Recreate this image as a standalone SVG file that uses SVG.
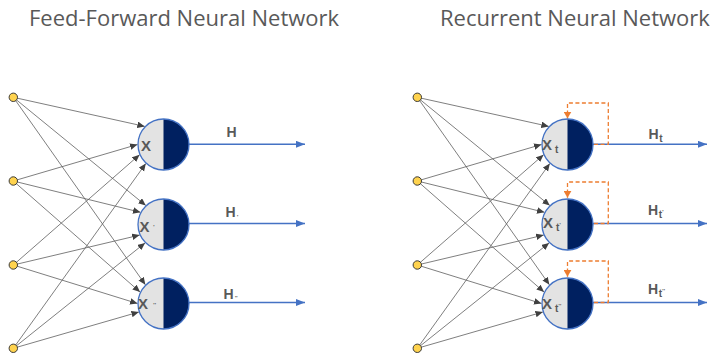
<svg xmlns="http://www.w3.org/2000/svg" width="711" height="355" viewBox="0 0 711 355">
  <style>
    .title { font-family: "Open Sans", "Liberation Sans", sans-serif; font-size: 22px; fill: #595959; }
    .lbl { font-family: "Liberation Sans", Arial, sans-serif; font-weight: bold; fill: #595959; }
    .x { font-size: 15px; }
    .h { font-size: 14px; }
    .sub { font-size: 10px; }
    .tiny { font-size: 6px; }
    .input { fill: #FFD34E; stroke: #3A3A3A; stroke-width: 1; }
    .edge { stroke: #5E5E5E; stroke-width: 0.8; fill: none; marker-end: url(#arrGray); }
    .out { stroke: #4472C4; stroke-width: 1.6; fill: none; marker-end: url(#arrBlue); }
    .loop { stroke: #ED7D31; stroke-width: 1.3; stroke-dasharray: 4 2.5; fill: none; marker-end: url(#arrOrange); }
    .cellL { fill: #E3E3E3; }
    .cellR { fill: #002060; }
    .ring { fill: none; stroke: #4472C4; stroke-width: 1.3; }
  </style>
  <defs>
    <marker id="arrGray" markerUnits="userSpaceOnUse" markerWidth="8" markerHeight="7" refX="7.5" refY="3.25" orient="auto">
      <path d="M0,0 L7.5,3.25 L0,6.5 Z" fill="#404040"/>
    </marker>
    <marker id="arrBlue" markerUnits="userSpaceOnUse" markerWidth="10" markerHeight="8" refX="9" refY="3.5" orient="auto">
      <path d="M0,0 L9,3.5 L0,7 Z" fill="#4472C4"/>
    </marker>
    <marker id="arrOrange" markerUnits="userSpaceOnUse" markerWidth="9" markerHeight="8" refX="7" refY="4" orient="auto">
      <path d="M0,0 L7,4 L0,8 Z" fill="#ED7D31"/>
    </marker>
    <!-- one neuron cell: light left half, dark right half, blue ring -->
    <g id="cell">
      <circle r="25.5" class="cellL"/>
      <path d="M0,-25.5 A25.5,25.5 0 0 1 0,25.5 Z" class="cellR"/>
      <circle r="25.5" class="ring"/>
    </g>
  </defs>

  <text class="title" x="29" y="26">Feed-Forward Neural Network</text>
  <text class="title" x="440" y="26">Recurrent Neural Network</text>

  <!-- connectors: feed-forward network -->
  <g id="connectors-ff">
    <line class="edge" x1="13.3" y1="97.3" x2="144.8" y2="126.4"/>
    <line class="edge" x1="13.3" y1="181" x2="137.5" y2="144.5"/>
    <line class="edge" x1="13.3" y1="265" x2="139.6" y2="154.7"/>
    <line class="edge" x1="13.3" y1="348.3" x2="145.8" y2="163.5"/>

    <line class="edge" x1="13.3" y1="97.3" x2="145.8" y2="205.5"/>
    <line class="edge" x1="13.3" y1="181" x2="140.5" y2="212.3"/>
    <line class="edge" x1="13.3" y1="265" x2="139.7" y2="235.1"/>
    <line class="edge" x1="13.3" y1="348.3" x2="145.1" y2="242.9"/>

    <line class="edge" x1="13.3" y1="97.3" x2="145.4" y2="284.8"/>
    <line class="edge" x1="13.3" y1="181" x2="140.1" y2="292.1"/>
    <line class="edge" x1="13.3" y1="265" x2="137.5" y2="303.5"/>
    <line class="edge" x1="13.3" y1="348.3" x2="138.9" y2="312"/>

    <line class="out" x1="189" y1="144.3" x2="305" y2="144.3"/>
    <line class="out" x1="189" y1="223.5" x2="305" y2="223.5"/>
    <line class="out" x1="189" y1="302.5" x2="305" y2="302.5"/>
  </g>

  <!-- connectors: recurrent network (same wiring, shifted right) -->
  <g id="connectors-rnn">
    <g transform="translate(404,0)">
      <line class="edge" x1="13.3" y1="97.3" x2="144.8" y2="126.4"/>
      <line class="edge" x1="13.3" y1="181" x2="137.5" y2="144.5"/>
      <line class="edge" x1="13.3" y1="265" x2="139.6" y2="154.7"/>
      <line class="edge" x1="13.3" y1="348.3" x2="145.8" y2="163.5"/>

      <line class="edge" x1="13.3" y1="97.3" x2="145.8" y2="205.5"/>
      <line class="edge" x1="13.3" y1="181" x2="140.5" y2="212.3"/>
      <line class="edge" x1="13.3" y1="265" x2="139.7" y2="235.1"/>
      <line class="edge" x1="13.3" y1="348.3" x2="145.1" y2="242.9"/>

      <line class="edge" x1="13.3" y1="97.3" x2="145.4" y2="284.8"/>
      <line class="edge" x1="13.3" y1="181" x2="140.1" y2="292.1"/>
      <line class="edge" x1="13.3" y1="265" x2="137.5" y2="303.5"/>
      <line class="edge" x1="13.3" y1="348.3" x2="138.9" y2="312"/>
    </g>
    <line class="out" x1="593" y1="144.3" x2="707" y2="144.3"/>
    <line class="out" x1="593" y1="223.5" x2="707" y2="223.5"/>
    <line class="out" x1="593" y1="302.5" x2="707" y2="302.5"/>
    <!-- recurrent feedback loops -->
    <path class="loop" d="M594,144.3 H608.3 V103 H567.5 V118.6"/>
    <path class="loop" d="M594,223.5 H608.3 V182 H567.5 V197.8"/>
    <path class="loop" d="M594,302.5 H608.3 V261 H567.5 V276.8"/>
  </g>

  <!-- input nodes -->
  <g id="ff-inputs">
    <circle class="input" cx="13.3" cy="97.3" r="4.2"/>
    <circle class="input" cx="13.3" cy="181" r="4.2"/>
    <circle class="input" cx="13.3" cy="265" r="4.2"/>
    <circle class="input" cx="13.3" cy="348.3" r="4.2"/>
  </g>
  <g id="rnn-inputs">
    <circle class="input" cx="417.3" cy="97.3" r="4.2"/>
    <circle class="input" cx="417.3" cy="181" r="4.2"/>
    <circle class="input" cx="417.3" cy="265" r="4.2"/>
    <circle class="input" cx="417.3" cy="348.3" r="4.2"/>
  </g>

  <!-- feed-forward neurons -->
  <g id="ff-n1">
    <use href="#cell" x="163.5" y="144.5"/>
    <text class="lbl x" x="141" y="151">X</text>
    <text class="lbl h" x="226.5" y="137">H</text>
  </g>
  <g id="ff-n2">
    <use href="#cell" x="163.5" y="224.5"/>
    <text class="lbl x" x="139.5" y="231.5">X<tspan class="tiny" x="153" y="229">’</tspan></text>
    <text class="lbl h" x="225.5" y="217">H<tspan class="tiny" dx="1" y="219">’</tspan></text>
  </g>
  <g id="ff-n3">
    <use href="#cell" x="163.5" y="303.5"/>
    <text class="lbl x" x="138" y="309">X<tspan class="tiny" x="153" y="306.5">’’</tspan></text>
    <text class="lbl h" x="223.5" y="298.5">H<tspan class="tiny" dx="1" y="300">’’</tspan></text>
  </g>

  <!-- recurrent neurons -->
  <g id="rnn-n1">
    <use href="#cell" x="567.5" y="144.5"/>
    <text class="lbl x" x="542" y="150">X<tspan class="sub" x="555" y="153">t</tspan></text>
    <text class="lbl h" x="648.5" y="138.5">H<tspan class="sub" dx="0.5" y="141.5">t</tspan></text>
  </g>
  <g id="rnn-n2">
    <use href="#cell" x="567.5" y="224.5"/>
    <text class="lbl x" x="543" y="228">X<tspan class="sub" x="556" y="231">t</tspan><tspan class="tiny" y="227">’</tspan></text>
    <text class="lbl h" x="648" y="214.5">H<tspan class="sub" dx="0.5" y="218">t</tspan><tspan class="tiny" y="214">’</tspan></text>
  </g>
  <g id="rnn-n3">
    <use href="#cell" x="567.5" y="303.5"/>
    <text class="lbl x" x="542" y="308.5">X<tspan class="sub" x="555" y="311.5">t</tspan><tspan class="tiny" y="307.5">’’</tspan></text>
    <text class="lbl h" x="648" y="293.5">H<tspan class="sub" dx="0.5" y="297">t</tspan><tspan class="tiny" y="293">’’</tspan></text>
  </g>
</svg>
